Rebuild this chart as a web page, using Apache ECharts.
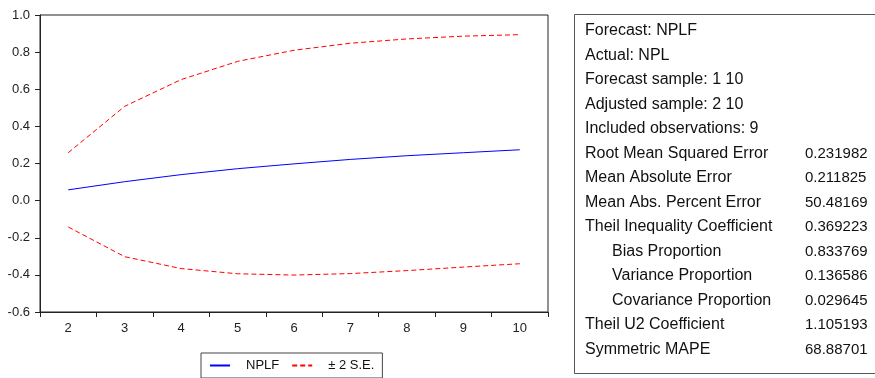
<!DOCTYPE html>
<html>
<head>
<meta charset="utf-8">
<title>NPLF forecast</title>
<script src="https://cdn.jsdelivr.net/npm/echarts@6/dist/echarts.min.js"></script>
<style>
    html, body { margin: 0; padding: 0; background: #fff; }
    #main { width: 875px; height: 378px; }
</style>
</head>
<body>
<div id="main"></div>
<script type="text/javascript">
    // forecast periods
    var periods = ['2', '3', '4', '5', '6', '7', '8', '9', '10'];
    // forecast and +/- 2 S.E. bands
    var nplf = [0.058, 0.102, 0.140, 0.172, 0.198, 0.222, 0.242, 0.258, 0.274];
    var upper = [0.258, 0.508, 0.652, 0.750, 0.810, 0.848, 0.871, 0.886, 0.894];
    var lower = [-0.142, -0.302, -0.366, -0.394, -0.401, -0.393, -0.377, -0.358, -0.340];
    var yTicks = [-0.6, 1.0, 0.2];

    // statistics table
    var statLabels = ['Forecast: NPLF', 'Actual: NPL', 'Forecast sample: 1 10', 'Adjusted sample: 2 10',
        'Included observations: 9', 'Root Mean Squared Error', 'Mean Absolute Error',
        'Mean Abs. Percent Error', 'Theil Inequality Coefficient', '   Bias Proportion',
        '   Variance Proportion', '   Covariance Proportion', 'Theil U2 Coefficient', 'Symmetric MAPE'];
    var statValues = ['', '', '', '', '', '0.231982', '0.211825', '50.48169', '0.369223',
        '0.833769', '0.136586', '0.029645', '1.105193', '68.88701'];

    var font = "'Liberation Sans', Arial, Helvetica, sans-serif";
    var blue = '#0000ff', red = '#ff0000', dash = [5, 3];
    var chart = echarts.init(document.getElementById('main'));

    var graphics = [{
        type: 'rect',
        shape: { x: 574.5, y: 14.5, width: 320, height: 359 },
        style: { fill: '#fff', stroke: '#555', lineWidth: 1 },
        silent: true
    }];
    for (var i = 0; i < statLabels.length; i++) {
        var y = 31 + i * 24.5;
        var indent = statLabels[i].indexOf('   ') === 0;
        graphics.push({
            type: 'text', x: indent ? 612 : 585, y: y,
            style: { text: statLabels[i].replace(/^ +/, ''), font: '16px ' + font, fill: '#111', textVerticalAlign: 'middle' },
            silent: true
        });
        if (statValues[i]) {
            graphics.push({
                type: 'text', x: 805, y: y,
                style: { text: statValues[i], font: '15px ' + font, fill: '#111', textVerticalAlign: 'middle' },
                silent: true
            });
        }
    }

    var option = {
        animation: false,
        backgroundColor: '#fff',
        textStyle: { fontFamily: font },
        grid: {
            left: 40, right: 327, top: 15, bottom: 66,
            show: true, borderColor: '#222', borderWidth: 1
        },
        legend: {
            left: 201, top: 353,
            data: ['NPLF', '± 2 S.E.'],
            itemWidth: 20, itemHeight: 10, itemGap: 12,
            padding: [6, 8, 6, 8],
            borderColor: '#444', borderWidth: 1,
            itemStyle: { opacity: 0, borderWidth: 0 },
            textStyle: { color: '#111', fontSize: 13, padding: [0, 0, 0, 11] }
        },
        xAxis: {
            type: 'category',
            data: periods,
            boundaryGap: true,
            axisLine: { onZero: false, lineStyle: { color: '#222' } },
            axisTick: { show: true, length: 5, interval: 0, lineStyle: { color: '#222' } },
            axisLabel: { color: '#222', fontSize: 13, margin: 10 },
            splitLine: { show: false }
        },
        yAxis: {
            type: 'value',
            min: yTicks[0], max: yTicks[1], interval: yTicks[2],
            axisLine: { show: true, lineStyle: { color: '#222' } },
            axisTick: { show: true, length: 5, lineStyle: { color: '#222' } },
            axisLabel: { color: '#222', fontSize: 13, margin: 10, formatter: function (v) { return v.toFixed(1); } },
            splitLine: { show: false }
        },
        series: [{
            name: 'NPLF', type: 'line', data: nplf, symbol: 'none',
            lineStyle: { color: blue, width: 1 }, itemStyle: { color: blue }
        }, {
            name: '± 2 S.E.', type: 'line', data: upper, symbol: 'none',
            lineStyle: { color: red, width: 1, type: dash }, itemStyle: { color: red }
        }, {
            name: '± 2 S.E.', type: 'line', data: lower, symbol: 'none',
            lineStyle: { color: red, width: 1, type: dash }, itemStyle: { color: red }
        }],
        graphic: graphics
    };
    chart.setOption(option);
</script>
</body>
</html>
